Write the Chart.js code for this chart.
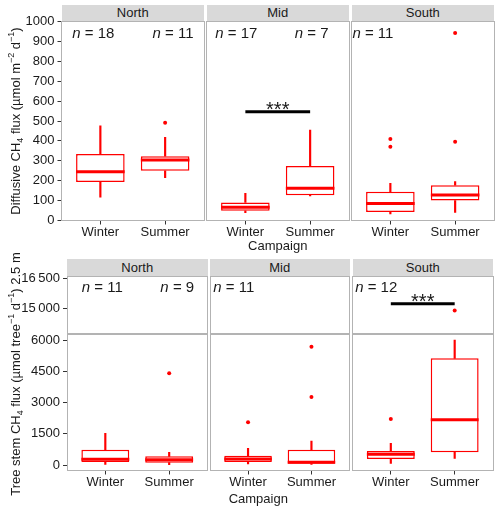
<!DOCTYPE html>
<html>
<head>
<meta charset="utf-8">
<script src="https://cdn.jsdelivr.net/npm/chart.js@4.4.1/dist/chart.umd.min.js"></script>
<style>
  body { margin: 0; background: #fff; }
  #wrap { position: relative; width: 500px; height: 512px; overflow: hidden;
          font-family: 'Liberation Sans', Arial, sans-serif; color: #1a1a1a; }
  canvas { position: absolute; left: 0; }
  .strip { position: absolute; background: #d9d9d9; font-size: 13px; text-align: center; }
  .title { position: absolute; font-size: 13px; line-height: 15px; white-space: nowrap; }
  .ytitle { transform: translate(-50%, -50%) rotate(-90deg); }
  .xtitle { transform: translateX(-50%); }
  sub, sup { font-size: 9px; line-height: 0; }
</style>
</head>
<body>
<div id="wrap"></div>
<script>
const RED = '#ff0000';
const FONT = "'Liberation Sans', Arial, sans-serif";

const REGIONS = ['North', 'Mid', 'South'];
const CAMPAIGNS = ['Winter', 'Summer'];

// Diffusive CH4 flux, per campaign: [lower whisker, Q1, median, Q3, upper whisker]
const DIFF_NORTH = [[117, 193, 245, 334, 476], [215, 250, 304, 323, 418]];
const DIFF_MID = [[39, 49, 66, 91, 137], [123, 127, 162, 274, 455]];
const DIFF_SOUTH = [[33, 43, 86, 145, 187], [41, 100, 128, 177, 195]];
const DIFF_OUT_NORTH = [[], [491]];
const DIFF_OUT_MID = [[], []];
const DIFF_OUT_SOUTH = [[371, 409], [396, 942]];
const DIFF_N = [[18, 11], [17, 7], [11]];
const DIFF_SIG = [null, 547, null];
const DIFF_TICKS = [0, 100, 200, 300, 400, 500, 600, 700, 800, 900, 1000];

// Tree stem CH4 flux at 2.5 m
const STEM_NORTH = [[32, 144, 272, 736, 1520], [16, 112, 256, 416, 608]];
const STEM_MID = [[48, 144, 288, 448, 800], [32, 64, 128, 736, 1152]];
const STEM_SOUTH = [[80, 288, 512, 672, 1040], [320, 608, 2176, 5120, 6000]];
const STEM_OUT_NORTH = [[], [4400]];
const STEM_OUT_MID = [[2048], [3264, 5680]];
const STEM_OUT_SOUTH = [[2208], [14880]];
const STEM_N = [[11, 9], [11], [12]];
const STEM_SIG = [null, null, 15215];
const STEM_TICKS_LOW = [0, 1500, 3000, 4500, 6000];
const STEM_TICKS_HIGH = [15000, 16500];

// layout (page pixels)
const TOP_X = [[61.5, 204], [206.5, 349], [351.5, 494]];
const BOT_X = [[67, 207.5], [210, 349.5], [352.5, 493]];
const N_POS_TOP = [[0.566, 1.806], [0.535, 1.764], [0.414]];
const N_POS_BOT = [[0.631, 1.862], [0.452], [0.442]];

Chart.defaults.font.family = FONT;
Chart.defaults.font.size = 13;
Chart.defaults.color = '#1a1a1a';

const wrap = document.getElementById('wrap');

function halfBox(c) {
    const x = c.chart.scales.x;
    return 0.375 * Math.abs(x.getPixelForValue(2) - x.getPixelForValue(1));
}

function boxSets(stats, outs, sig) {
    const sets = [
        { type: 'scatter', data: outs.flatMap((vals, i) => vals.map(v => ({ x: i + 1, y: v }))),
          pointRadius: 2, pointHoverRadius: 2, pointBackgroundColor: RED, pointBorderWidth: 0, clip: 0, order: 0 },
        { type: 'scatter', data: stats.map((s, i) => ({ x: i + 1, y: s[2] })),
          pointStyle: 'line', pointRadius: halfBox, pointHoverRadius: halfBox,
          pointBorderWidth: 3, pointBorderColor: RED, clip: 0, order: 1 },
        { type: 'bar', data: stats.map((s, i) => ({ x: i + 1, y: [s[1], s[3]] })),
          backgroundColor: '#fff', borderColor: RED, borderWidth: 1.5, borderSkipped: false,
          barPercentage: 0.75, categoryPercentage: 1, grouped: false, clip: 0, order: 2 },
        { type: 'bar', data: stats.map((s, i) => ({ x: i + 1, y: [s[0], s[1]] })),
          backgroundColor: RED, barThickness: 1.5, grouped: false, clip: 0, order: 3 },
        { type: 'bar', data: stats.map((s, i) => ({ x: i + 1, y: [s[3], s[4]] })),
          backgroundColor: RED, barThickness: 1.5, grouped: false, clip: 0, order: 3 }
    ];
    if (sig != null) {
        sets.push({ type: 'line', data: [{ x: 1, y: sig }, { x: 2, y: sig }],
                    borderColor: '#000', borderWidth: 3, pointRadius: 0, order: 0 });
    }
    return sets;
}

const panelDecor = {
    id: 'panelDecor',
    afterDatasetsDraw(chart, args, opts) {
        const { ctx, chartArea: a } = chart;
        const x = chart.scales.x, y = chart.scales.y;
        ctx.save();
        ctx.fillStyle = '#1a1a1a';
        ctx.textBaseline = 'alphabetic';
        (opts.n || []).forEach((n, i) => {
            let px = x.getPixelForValue(opts.nPos[i]);
            const py = a.top + 16;
            ctx.textAlign = 'left';
            ctx.font = 'italic 15px ' + FONT;
            ctx.fillText('n', px, py);
            px += ctx.measureText('n').width;
            ctx.font = '15px ' + FONT;
            ctx.fillText(' = ' + n, px, py);
        });
        if (opts.sig != null && opts.sig >= y.min && opts.sig <= y.max) {
            ctx.font = '20px ' + FONT;
            ctx.textAlign = 'center';
            const cx = (x.getPixelForValue(1) + x.getPixelForValue(2)) / 2;
            ctx.fillText('***', cx, y.getPixelForValue(opts.sig) + 4);
        }
        ctx.strokeStyle = '#b3b3b3';
        ctx.lineWidth = 1;
        const l = Math.floor(a.left) + 0.5, t = Math.floor(a.top) + 0.5;
        ctx.strokeRect(l, t, Math.floor(a.right) - Math.floor(a.left), Math.floor(a.bottom) - Math.floor(a.top));
        ctx.restore();
    }
};

function makeChart(o) {
    const c = document.createElement('canvas');
    c.width = 500;
    c.height = o.rowH;
    c.style.top = o.rowTop + 'px';
    wrap.appendChild(c);
    const [l, r] = o.xr;
    const [t, b] = o.yr;
    const xH = o.showX ? 20 : 0;
    new Chart(c, {
        type: 'bar',
        data: { datasets: boxSets(o.stats, o.outs, o.sig) },
        options: {
            responsive: false,
            animation: false,
            devicePixelRatio: 1,
            events: [],
            layout: { padding: {
                left: o.showY ? 0 : l,
                right: 500 - r,
                top: t - o.rowTop,
                bottom: o.rowTop + o.rowH - b - xH
            } },
            plugins: {
                legend: { display: false },
                tooltip: { enabled: false },
                panelDecor: { n: o.n, nPos: o.nPos, sig: o.sig }
            },
            scales: {
                x: {
                    type: 'linear', min: 0.4, max: 2.6, offset: false, display: o.showX,
                    afterBuildTicks: s => { s.ticks = CAMPAIGNS.map((cName, i) => ({ value: i + 1 })); },
                    afterFit: s => { if (o.showX) s.height = xH; },
                    grid: { offset: false, drawOnChartArea: false, drawTicks: true, tickLength: 4, color: '#333' },
                    border: { display: false },
                    ticks: { padding: 0, maxRotation: 0, autoSkip: false, callback: v => CAMPAIGNS[v - 1] }
                },
                y: {
                    min: o.yMin, max: o.yMax, display: o.showY,
                    afterBuildTicks: s => { s.ticks = o.yTicks.map(v => ({ value: v })); },
                    afterFit: s => { if (o.showY) s.width = l; },
                    grid: { drawOnChartArea: false, drawTicks: true, tickLength: 4, color: '#333' },
                    border: { display: false },
                    ticks: { padding: 3, autoSkip: false,
                             callback: v => v >= 10000 ? String(v).replace(/(\d{3})$/, '\u2009$1') : String(v) }
                }
            }
        },
        plugins: [panelDecor]
    });
}

function addDiv(cls, html, css) {
    const d = document.createElement('div');
    d.className = cls;
    d.innerHTML = html;
    Object.assign(d.style, css);
    wrap.appendChild(d);
}

const DIFF = [DIFF_NORTH, DIFF_MID, DIFF_SOUTH];
const DIFF_OUT = [DIFF_OUT_NORTH, DIFF_OUT_MID, DIFF_OUT_SOUTH];
const STEM = [STEM_NORTH, STEM_MID, STEM_SOUTH];
const STEM_OUT = [STEM_OUT_NORTH, STEM_OUT_MID, STEM_OUT_SOUTH];

REGIONS.forEach((reg, i) => {
    // top row: diffusive flux
    addDiv('strip', reg, { left: TOP_X[i][0] + 'px', width: (TOP_X[i][1] - TOP_X[i][0]) + 'px',
                           top: '5px', height: '16px', lineHeight: '16px' });
    makeChart({ rowTop: 0, rowH: 256, xr: TOP_X[i], yr: [21.5, 220.5], showX: true, showY: i === 0,
                yMin: 0, yMax: 1000, yTicks: DIFF_TICKS,
                stats: DIFF[i], outs: DIFF_OUT[i], sig: DIFF_SIG[i], n: DIFF_N[i], nPos: N_POS_TOP[i] });

    // bottom row: tree stem flux, broken axis
    addDiv('strip', reg, { left: BOT_X[i][0] + 'px', width: (BOT_X[i][1] - BOT_X[i][0]) + 'px',
                           top: '259px', height: '17px', lineHeight: '17px' });
    makeChart({ rowTop: 256, rowH: 256, xr: BOT_X[i], yr: [276, 333], showX: false, showY: i === 0,
                yMin: 13750, yMax: 16600, yTicks: STEM_TICKS_HIGH,
                stats: STEM[i], outs: STEM_OUT[i], sig: STEM_SIG[i], n: STEM_N[i], nPos: N_POS_BOT[i] });
    makeChart({ rowTop: 256, rowH: 256, xr: BOT_X[i], yr: [334, 470.5], showX: true, showY: i === 0,
                yMin: -264, yMax: 6288, yTicks: STEM_TICKS_LOW,
                stats: STEM[i], outs: STEM_OUT[i], sig: STEM_SIG[i], n: [], nPos: [] });
});

addDiv('title ytitle', 'Diffusive CH<sub>4</sub> flux (µmol m<sup>−2</sup> d<sup>−1</sup>)',
       { left: '14.5px', top: '121px' });
addDiv('title ytitle', 'Tree stem CH<sub>4</sub> flux (µmol tree<sup>−1</sup> d<sup>−1</sup>) 2.5 m',
       { left: '14.5px', top: '374px' });
addDiv('title xtitle', 'Campaign', { left: '277.75px', top: '237.5px' });
addDiv('title xtitle', 'Campaign', { left: '258.3px', top: '490.6px' });
</script>
</body>
</html>
